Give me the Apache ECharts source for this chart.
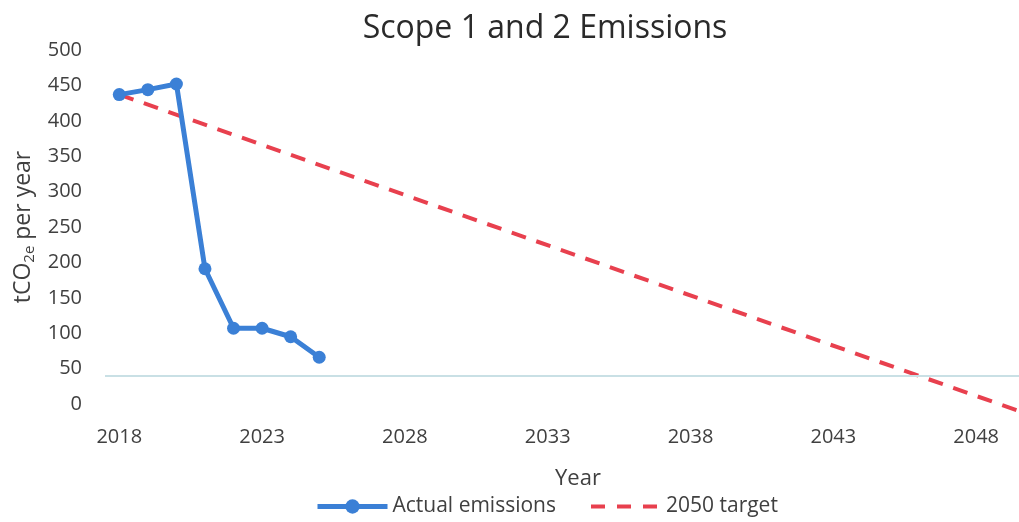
<!DOCTYPE html>
<html>
<head>
<meta charset="utf-8">
<script src="https://cdn.jsdelivr.net/npm/echarts@6/dist/echarts.min.js"></script>
<style>
  html, body { margin: 0; padding: 0; background: #fff; }
  #chart { width: 1019px; height: 522px; }
</style>
</head>
<body>
<div id="chart"></div>
<script>
// x tick labels (every 5th year)
const yearTicks = [2018, 2023, 2028, 2033, 2038, 2043, 2048]

// actual emissions, tCO2e per year
const actualYears = [2018, 2019, 2020, 2021, 2022, 2023, 2024, 2025]
const actual = [437, 444, 452, 191, 107, 107, 95, 66]

// 2050 target: straight line between its two ends
const targetYears = [2018, 2050]
const target = [437, -17]

// faint horizontal rule that runs across the picture
const ruleValue = 39.5

const textColor = '#404040'
const font = "'Open Sans', 'Noto Sans', sans-serif"

const zip = (xs, ys) => xs.map((x, i) => [x, ys[i]])

const chart = echarts.init(document.getElementById('chart'))
chart.setOption({
  animation: false,
  textStyle: { fontFamily: font, color: textColor },
  title: {
    text: 'Scope 1 and 2 Emissions',
    left: 540,
    top: 8,
    textAlign: 'center',
    textStyle: { fontSize: 32, fontWeight: 'normal', color: '#2a2a2a', fontFamily: font },
  },
  grid: { left: 105, right: 0, top: 50, bottom: 118 },
  legend: {
    bottom: 0,
    left: 310,
    itemWidth: 70,
    itemHeight: 18,
    itemGap: 33,
    textStyle: { fontSize: 21, color: textColor, fontFamily: font },
    data: [
      { name: 'Actual emissions', lineStyle: { width: 5 } },
      { name: '2050 target', lineStyle: { width: 4, type: [14, 12] }, itemStyle: { opacity: 0 } },
    ],
  },
  xAxis: {
    type: 'value',
    // half a year of padding either side, like Excel's category axis
    min: 2017.5,
    max: 2049.5,
    splitLine: { show: false },
    axisLine: { show: false },
    axisTick: { show: false },
    axisLabel: {
      customValues: yearTicks,
      formatter: (v) => String(v),
      fontSize: 20,
      color: textColor,
      margin: 23,
    },
    name: 'Year',
    nameLocation: 'middle',
    nameGap: 64,
    nameTextStyle: { fontSize: 22, color: textColor, padding: [0, 0, 0, 32] },
  },
  yAxis: {
    type: 'value',
    min: 0,
    max: 500,
    interval: 50,
    splitLine: { show: false },
    axisLine: { show: false },
    axisTick: { show: false },
    axisLabel: { fontSize: 20, color: textColor, margin: 23 },
    name: 'tCO{sub|2e} per year',
    nameLocation: 'middle',
    nameRotate: 90,
    nameGap: 65,
    nameTextStyle: {
      fontSize: 23,
      color: textColor,
      rich: {
        sub: { fontSize: 15, color: textColor, verticalAlign: 'bottom', padding: [12, 0, 0, 0] },
      },
    },
  },
  series: [
    {
      name: 'Actual emissions',
      type: 'line',
      data: zip(actualYears, actual),
      symbol: 'circle',
      symbolSize: 13,
      z: 3,
      lineStyle: { width: 5, color: '#3b80d6' },
      itemStyle: { color: '#3b80d6' },
      markLine: {
        silent: true,
        symbol: 'none',
        label: { show: false },
        lineStyle: { color: '#c9e0e5', width: 2, type: 'solid' },
        data: [{ yAxis: ruleValue }],
      },
    },
    {
      name: '2050 target',
      type: 'line',
      data: zip(targetYears, target),
      clip: false,
      symbol: 'none',
      z: 2,
      lineStyle: { width: 4, color: '#e8404e', type: [15, 11] },
      itemStyle: { color: '#e8404e' },
    },
  ],
})
</script>
</body>
</html>
